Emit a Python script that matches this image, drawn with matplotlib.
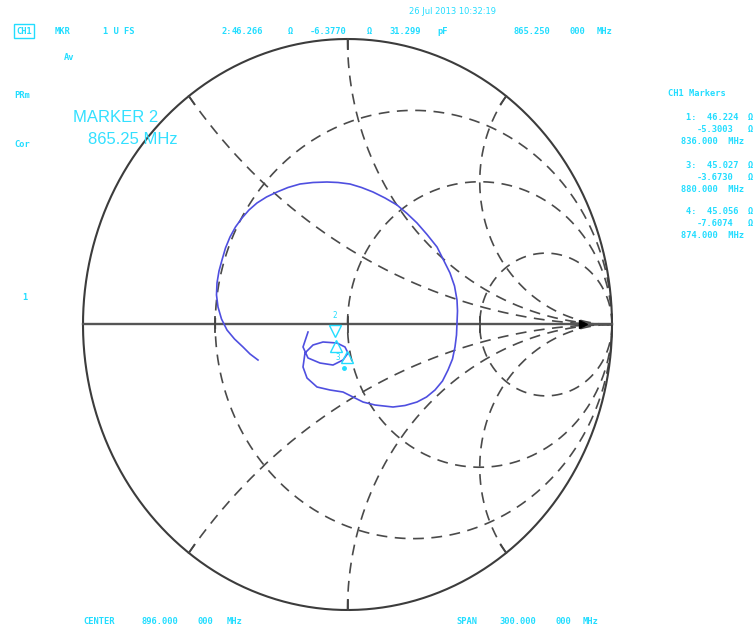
import numpy as np
import matplotlib
matplotlib.use('Agg')
import matplotlib.pyplot as plt

# ---------------- data ----------------
trace_re = [-0.1493, -0.1682, -0.1493, -0.1040, -0.0548, -0.0170, 0.0019, -0.0095,
            -0.0397, -0.0926, -0.1304, -0.1607, -0.1682, -0.1531, -0.1153, -0.0662,
            -0.0170, 0.0208, 0.0586, 0.1040, 0.1720, 0.2174, 0.2628, 0.2987,
            0.3308, 0.3592, 0.3800, 0.3970, 0.4064, 0.4121, 0.4140, 0.4159,
            0.4140, 0.4046, 0.3875, 0.3630, 0.3384, 0.3006, 0.2628, 0.2250,
            0.1871, 0.1418, 0.0964, 0.0529, 0.0095, -0.0359, -0.0775, -0.1304,
            -0.1796, -0.2250, -0.2665, -0.3063, -0.3422, -0.3724, -0.3989, -0.4235,
            -0.4442, -0.4613, -0.4745, -0.4858, -0.4934, -0.4953, -0.4896, -0.4764,
            -0.4556, -0.4272, -0.3951, -0.3686, -0.3384]
trace_im = [-0.0263, -0.0788, -0.1173, -0.1349, -0.1419, -0.1244, -0.0998, -0.0788,
            -0.0648, -0.0613, -0.0718, -0.0998, -0.1489, -0.1874, -0.2189, -0.2294,
            -0.2365, -0.2540, -0.2715, -0.2820, -0.2890, -0.2837, -0.2715, -0.2540,
            -0.2294, -0.1979, -0.1594, -0.1208, -0.0788, -0.0368, 0.0053, 0.0473,
            0.0858, 0.1349, 0.1804, 0.2259, 0.2715, 0.3153, 0.3556, 0.3888,
            0.4186, 0.4431, 0.4641, 0.4799, 0.4921, 0.4974, 0.4991, 0.4974,
            0.4921, 0.4799, 0.4641, 0.4466, 0.4256, 0.4011, 0.3730, 0.3416,
            0.3065, 0.2680, 0.2259, 0.1874, 0.1454, 0.1033, 0.0613, 0.0193,
            -0.0193, -0.0508, -0.0788, -0.1033, -0.1244]

# Smith chart grid
r_circles = [1/3, 1.0, 3.0]
x_arcs = [0.5, 1.0, 2.0, -0.5, -1.0, -2.0]

# marker symbols (Gamma)
mk_active_re, mk_active_im = [-0.047], [-0.023]
mk_up_re, mk_up_im = [-0.043, -0.002], [-0.075, -0.114]
mk_dot_re, mk_dot_im = [-0.013], [-0.152]
ref_re, ref_im = [0.89], [0.0]

# annotation texts
top_line = [("MKR", 55), ("1 U FS", 103), ("2:", 222), ("46.266", 232), ("\u03a9", 288),
            ("-6.3770", 310), ("\u03a9", 367), ("31.299", 389), ("pF", 437),
            ("865.250", 513), ("000", 569), ("MHz", 597)]
date_text = "26 Jul 2013 10:32:19"
left_labels = [("Av", 64, 58), ("PRm", 14, 96), ("Cor", 14, 145), ("1", 22, 297)]
marker_title = "CH1 Markers"
marker_rows = [["1:  46.224", "-5.3003", "836.000  MHz"],
               ["3:  45.027", "-3.6730", "880.000  MHz"],
               ["4:  45.056", "-7.6074", "874.000  MHz"]]
bottom_left = [("CENTER", 83), ("896.000", 142), ("000", 198), ("MHz", 227)]
bottom_right = [("SPAN", 456), ("300.000", 499), ("000", 555), ("MHz", 583)]
big_label = ["MARKER 2", "865.25 MHz"]

# ---------------- figure ----------------
W, H = 756, 629
fig = plt.figure(figsize=(W / 100, H / 100), dpi=100)
ax = fig.add_axes([0, 0, 1, 1])
cx, cy, sx, sy = 347.5, 324.5, 264.5, 285.5
ax.set_xlim(-cx / sx, (W - cx) / sx)
ax.set_ylim((cy - H) / sy, cy / sy)
ax.axis('off')

grid_col = '#4a4a4a'
dash = (0, (6.5, 4.5))

# outer circle and real axis
t = np.linspace(0, 2 * np.pi, 600)
ax.plot(np.cos(t), np.sin(t), color='#3c3c3c', lw=1.5, zorder=3)
ax.plot([-1, 1], [0, 0], color='#555555', lw=1.7, zorder=3)

# constant resistance circles
for r in r_circles:
    c, rad = r / (1 + r), 1 / (1 + r)
    ax.plot(c + rad * np.cos(t), rad * np.sin(t), color=grid_col, lw=1.2,
            linestyle=dash, zorder=2)
    g0 = (r - 1) / (r + 1)
    ax.plot([g0, g0], [-0.025, 0.025], color='#444444', lw=1.3, zorder=3)

# constant reactance arcs
rr = np.concatenate([[0.0], np.logspace(-3, 3, 500)])
for x in x_arcs:
    z = rr + 1j * x
    g = (z - 1) / (z + 1)
    ax.plot(g.real, g.imag, color=grid_col, lw=1.2, linestyle=dash, zorder=2)
    ge = (1j * x - 1) / (1j * x + 1)
    ax.plot([ge.real, ge.real * 0.965], [ge.imag, ge.imag * 0.965],
            color='#444444', lw=1.3, zorder=3)

# reference marker at the right
ax.plot(ref_re, ref_im, marker='>', color='black', ms=6, ls='none', zorder=5)

# measured trace
ax.plot(trace_re, trace_im, color='#4f4fe0', lw=1.2, zorder=4,
        solid_joinstyle='round')

# marker symbols
cyan = '#22ddff'
ax.plot(mk_active_re, mk_active_im, marker='v', ms=8, mfc='none', mec=cyan,
        mew=1.0, ls='none', zorder=6)
ax.plot(mk_up_re, mk_up_im, marker='^', ms=8, mfc='none', mec=cyan,
        mew=1.0, ls='none', zorder=6)
ax.plot(mk_dot_re, mk_dot_im, marker='o', ms=2.5, color=cyan, ls='none', zorder=6)
ax.annotate("2", (mk_active_re[0], mk_active_im[0]), xytext=(0, 8),
            textcoords='offset points', ha='center', va='bottom', color=cyan,
            fontsize=5.5, family='DejaVu Sans Mono')
ax.annotate("3", (mk_up_re[1], mk_up_im[1]), xytext=(-5, 0),
            textcoords='offset points', ha='right', va='center', color=cyan,
            fontsize=5.5, family='DejaVu Sans Mono')


def fx(px):
    return px / W


def fy(py):
    return 1 - py / H


small = dict(color=cyan, fontsize=6.3, family='DejaVu Sans Mono', fontweight='bold',
             va='center')

# top line
fig.text(fx(16), fy(31), "CH1", ha='left', **small,
         bbox=dict(boxstyle='square,pad=0.25', fc='none', ec=cyan, lw=1.0))
for s, px in top_line:
    fig.text(fx(px), fy(31), s, ha='left', **small)
fig.text(fx(409), fy(12), date_text, ha='left', color=cyan, fontsize=6,
         family='DejaVu Sans', va='center')

# left labels
for s, px, py in left_labels:
    fig.text(fx(px), fy(py), s, ha='left', **small)

# big marker label
fig.text(fx(73), fy(117), big_label[0], ha='left', va='center', color='#33e0ff',
         fontsize=12, family='Liberation Sans')
fig.text(fx(88), fy(140), big_label[1], ha='left', va='center', color='#33e0ff',
         fontsize=12, family='Liberation Sans')

# marker list on the right
fig.text(fx(668), fy(93), marker_title, ha='left', **small)
row_y = [118, 165, 212]
for (a, b, c), y0 in zip(marker_rows, row_y):
    fig.text(fx(738), fy(y0), a, ha='right', **small)
    fig.text(fx(750), fy(y0), "\u03a9", ha='center', **small)
    fig.text(fx(733), fy(y0 + 12), b, ha='right', **small)
    fig.text(fx(750), fy(y0 + 12), "\u03a9", ha='center', **small)
    fig.text(fx(744), fy(y0 + 24), c, ha='right', **small)

# bottom line
for s, px in bottom_left:
    fig.text(fx(px), fy(622), s, ha='left', **small)
for s, px in bottom_right:
    fig.text(fx(px), fy(622), s, ha='left', **small)

fig.savefig('out.png', dpi=100)
